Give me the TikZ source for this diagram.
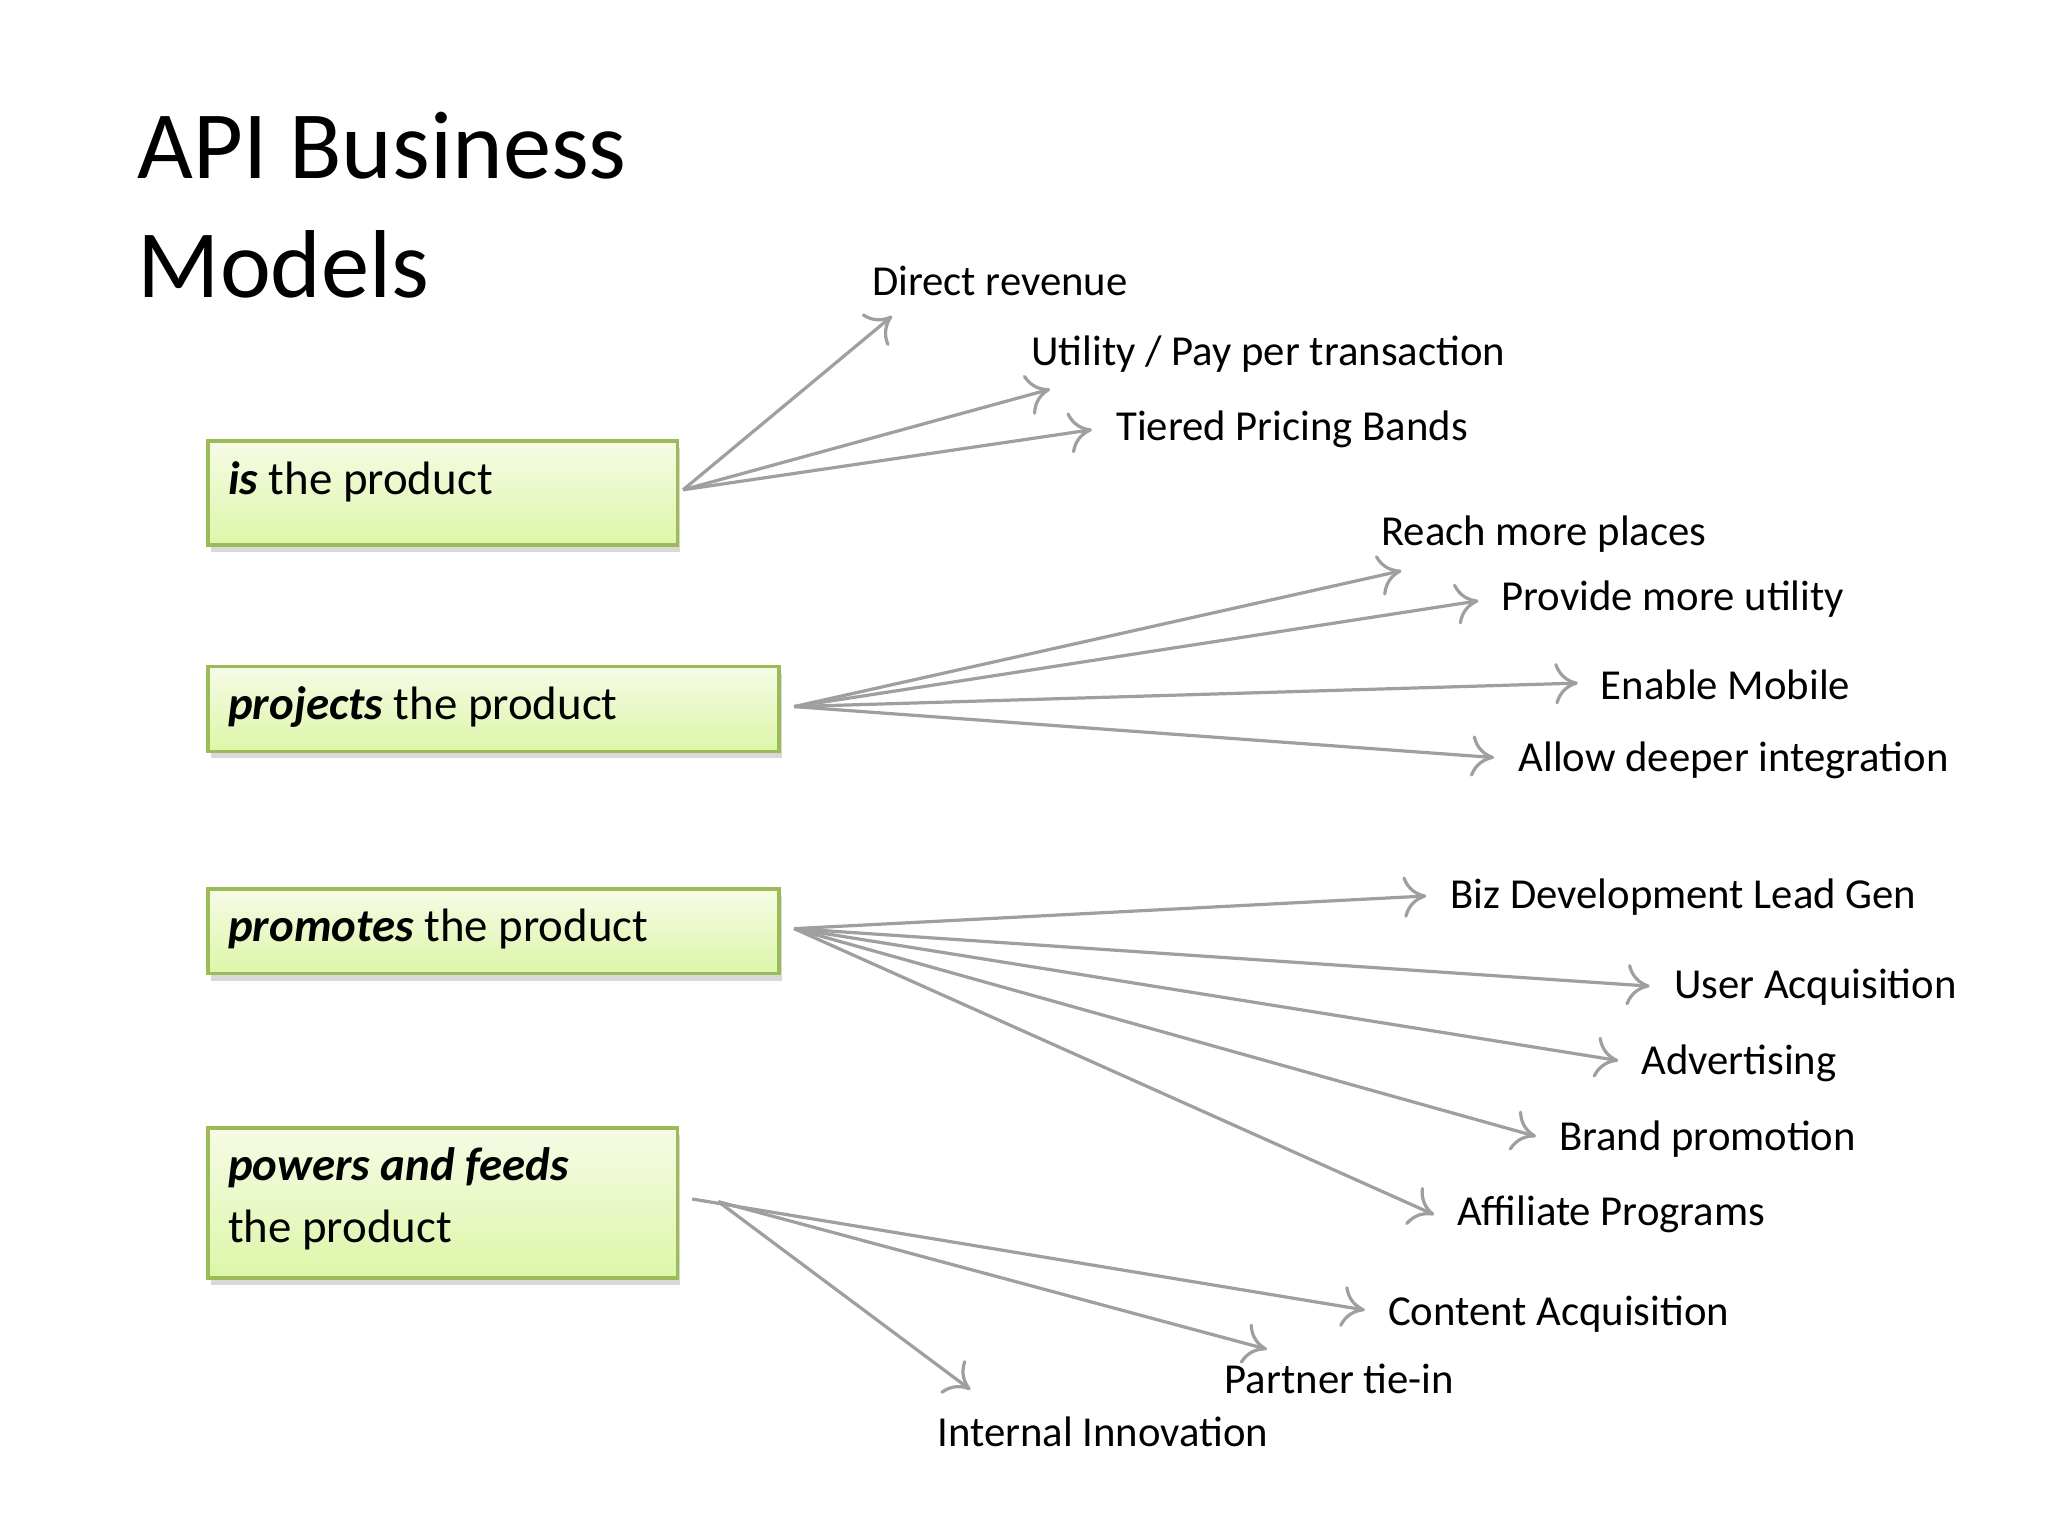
\documentclass[tikz,border=0pt]{standalone}
\usepackage{fontspec}
\setmainfont{Carlito}
\usetikzlibrary{shadows,arrows.meta}
\definecolor{boxline}{HTML}{9BBB59}
\definecolor{boxtop}{HTML}{F6FBE6}
\definecolor{boxbottom}{HTML}{DDF6A8}

\begin{document}
\begin{tikzpicture}[
    x=0.01cm, y=-0.01cm,
    box/.style={draw=boxline, line width=0.8pt, top color=boxtop, bottom color=boxbottom,
        drop shadow={shadow xshift=0.5pt, shadow yshift=-1.5pt, opacity=0.3},
        anchor=north west, inner sep=0pt},
    boxtext/.style={anchor=west, align=left, inner sep=0pt, font=\fontsize{10.2pt}{13.6pt}\selectfont},
    item/.style={anchor=west, inner sep=0pt, font=\fontsize{9.3pt}{10pt}\selectfont},
    link/.style={draw, gray!75, line width=0.7pt, -{To[length=5pt,width=9pt]}}
]
    \useasboundingbox (0,0) rectangle (1568,1176);
    \node[anchor=west, align=left, font=\fontsize{21pt}{26pt}\selectfont] (title) at (93,157) {API Business\\Models};

    % boxes
    \node[box, minimum width=3.59cm, minimum height=0.80cm] (is) at (158,336) {};
    \node[boxtext] (is text) at (174,369) {\textbf{\textit{is}} the product};
    \node[box, minimum width=4.37cm, minimum height=0.65cm] (proj) at (158,509) {};
    \node[boxtext] (proj text) at (174,541) {\textbf{\textit{projects}} the product};
    \node[box, minimum width=4.37cm, minimum height=0.65cm] (prom) at (158,679) {};
    \node[boxtext] (prom text) at (174,711) {\textbf{\textit{promotes}} the product};
    \node[box, minimum width=3.59cm, minimum height=1.15cm] (pow) at (158,862) {};
    \node[boxtext] (pow text) at (174,918) {\textbf{\textit{powers and feeds}}\\the product};

    % start points
    \coordinate (s1) at (523,375);
    \coordinate (s2) at (608,541);
    \coordinate (s3) at (608,711);
    \coordinate (s4) at (530,918);
    \coordinate (s5) at (550,920);

    % labels
    \node[item] (l1) at (667,215) {Direct revenue};
    \node[item] (l2) at (789,271) {Utility / Pay per transaction};
    \node[item] (l3) at (854,329) {Tiered Pricing Bands};
    \node[item] (l4) at (1057,409) {Reach more places};
    \node[item] (l5) at (1149,459) {Provide more utility};
    \node[item] (l6) at (1225,524) {Enable Mobile};
    \node[item] (l7) at (1162,582) {Allow deeper integration};
    \node[item] (l8) at (1110,687) {Biz Development Lead Gen};
    \node[item] (l9) at (1281,756) {User Acquisition};
    \node[item] (l10) at (1256,814) {Advertising};
    \node[item] (l11) at (1193,872) {Brand promotion};
    \node[item] (l12) at (1115,930) {Affiliate Programs};
    \node[item] (l13) at (1062,1006) {Content Acquisition};
    \node[item] (l14) at (937,1056) {Partner tie-in};
    \node[item] (l15) at (717,1096) {Internal Innovation};

    % arrow ends
    \coordinate (e1) at (683,242);
    \coordinate (e2) at (804,298);
    \coordinate (e3) at (836,329);
    \coordinate (e4) at (1073,437);
    \coordinate (e5) at (1132,460);
    \coordinate (e6) at (1208,523);
    \coordinate (e7) at (1144,580);
    \coordinate (e8) at (1092,686);
    \coordinate (e9) at (1263,755);
    \coordinate (e10) at (1239,812);
    \coordinate (e11) at (1176,870);
    \coordinate (e12) at (1098,930);
    \coordinate (e13) at (1045,1003);
    \coordinate (e14) at (970,1033);
    \coordinate (e15) at (743,1064);

    \foreach \e in {1,2,3} \draw[link] (s1) -- (e\e);
    \foreach \e in {4,...,7} \draw[link] (s2) -- (e\e);
    \foreach \e in {8,...,12} \draw[link] (s3) -- (e\e);
    \draw[link] (s4) -- (e13);
    \draw[link] (s5) -- (e14);
    \draw[link] (s5) -- (e15);
\end{tikzpicture}
\end{document}
